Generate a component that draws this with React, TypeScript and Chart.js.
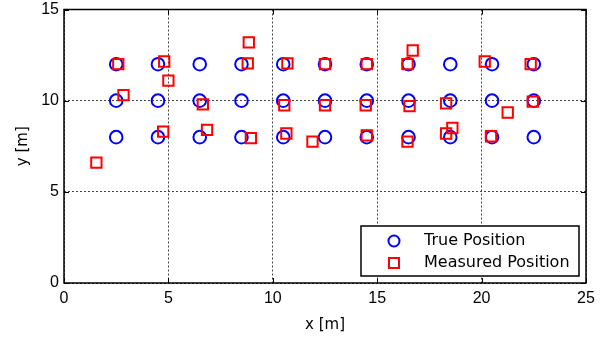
import React, { useEffect, useRef } from 'react';
import { Chart, registerables } from 'chart.js';
Chart.register(...registerables);

const trueX = [
  2.5, 4.5, 6.5, 8.5, 10.5, 12.5, 14.5, 16.5, 18.5, 20.5, 22.5,
  2.5, 4.5, 6.5, 8.5, 10.5, 12.5, 14.5, 16.5, 18.5, 20.5, 22.5,
  2.5, 4.5, 6.5, 8.5, 10.5, 12.5, 14.5, 16.5, 18.5, 20.5, 22.5,
];
const trueY = [
  8, 8, 8, 8, 8, 8, 8, 8, 8, 8, 8,
  10, 10, 10, 10, 10, 10, 10, 10, 10, 10, 10,
  12, 12, 12, 12, 12, 12, 12, 12, 12, 12, 12,
];
const measX = [
  2.6, 2.85, 1.55, 4.8, 5.0, 4.75, 6.65, 6.85, 8.85, 8.8, 8.95,
  10.7, 10.55, 10.65, 11.9, 12.5, 12.5, 14.5, 14.45, 14.5, 16.7, 16.45,
  16.55, 16.45, 18.3, 18.6, 18.3, 20.15, 21.25, 20.45, 22.35, 22.45,
];
const measY = [
  12.0, 10.3, 6.6, 12.15, 11.1, 8.3, 9.8, 8.4, 13.2, 12.05, 7.95,
  12.05, 9.75, 8.2, 7.75, 12.0, 9.75, 12.0, 9.75, 8.1, 12.75, 12.0,
  9.7, 7.75, 9.85, 8.5, 8.2, 12.15, 9.35, 8.05, 12.0, 9.95,
];
const xTickValues = [0, 5, 10, 15, 20, 25];
const yTickValues = [0, 5, 10, 15];
const seriesNames = ['True Position', 'Measured Position'];
const xTitle = 'x [m]';
const yTitle = 'y [m]';

const BLUE = '#0000ff';
const RED = '#ff0000';

const framePlugin = {
  id: 'frame',
  afterDraw(chart: any) {
    const { ctx, chartArea: a, scales } = chart;
    ctx.save();
    ctx.strokeStyle = '#000';
    ctx.lineWidth = 1.5;
    ctx.strokeRect(a.left, a.top, a.right - a.left, a.bottom - a.top);
    ctx.lineWidth = 1;
    const line = (x1: number, y1: number, x2: number, y2: number) => {
      ctx.beginPath();
      ctx.moveTo(x1, y1);
      ctx.lineTo(x2, y2);
      ctx.stroke();
    };
    xTickValues.forEach((v) => {
      const px = Math.round(scales.x.getPixelForValue(v)) + 0.5;
      line(px, a.bottom, px, a.bottom - 5);
      line(px, a.top, px, a.top + 5);
    });
    yTickValues.forEach((v) => {
      const py = Math.round(scales.y.getPixelForValue(v)) + 0.5;
      line(a.left, py, a.left + 5, py);
      line(a.right, py, a.right - 5, py);
    });

    // legend
    const lx = 361, ly = 226, lw = 218, lh = 50;
    ctx.fillStyle = '#fff';
    ctx.fillRect(lx, ly, lw, lh);
    ctx.strokeStyle = '#000';
    ctx.lineWidth = 1.5;
    ctx.strokeRect(lx, ly, lw, lh);
    ctx.font = '16px "DejaVu Sans"';
    ctx.textBaseline = 'middle';
    ctx.textAlign = 'left';
    ctx.fillStyle = '#000';
    const rows = [241, 263];
    ctx.lineWidth = 2;
    ctx.strokeStyle = BLUE;
    ctx.beginPath();
    ctx.arc(394, rows[0], 5.5, 0, Math.PI * 2);
    ctx.stroke();
    ctx.strokeStyle = RED;
    ctx.strokeRect(389, rows[1] - 5, 10, 10);
    ctx.fillText(seriesNames[0], 424, rows[0]);
    ctx.fillText(seriesNames[1], 424, rows[1]);
    ctx.restore();
  },
};

export default function App() {
  const ref = useRef<HTMLCanvasElement>(null);
  useEffect(() => {
    document.body.style.margin = '0';
    const trueData = trueX.map((x, i) => ({ x, y: trueY[i] }));
    const measData = measX.map((x, i) => ({ x, y: measY[i] }));
    const chart = new Chart(ref.current!, {
      type: 'scatter',
      data: {
        datasets: [
          {
            label: seriesNames[0],
            data: trueData,
            pointStyle: 'circle',
            pointRadius: 6.3,
            pointBorderWidth: 2,
            borderColor: BLUE,
            backgroundColor: 'rgba(0,0,0,0)',
            order: 2,
          },
          {
            label: seriesNames[1],
            data: measData,
            pointStyle: 'rect',
            pointRadius: 7.3,
            pointBorderWidth: 2,
            borderColor: RED,
            backgroundColor: 'rgba(0,0,0,0)',
            order: 1,
          },
        ],
      },
      options: {
        responsive: false,
        animation: false,
        events: [],
        layout: { padding: { top: 9.5, right: 18, left: 0, bottom: 0 } },
        plugins: { legend: { display: false }, tooltip: { enabled: false } },
        scales: {
          x: {
            type: 'linear',
            min: 0,
            max: 25,
            afterFit: (s: any) => { s.height = 58; s.paddingLeft = 0; s.paddingRight = 0; },
            ticks: {
              stepSize: 5,
              color: '#000',
              padding: 6,
              font: { family: 'Liberation Sans', size: 16 },
            },
            grid: { color: '#444', lineWidth: 1, drawTicks: false },
            border: { display: false, dash: [2, 2] },
            title: {
              display: true,
              text: xTitle,
              color: '#000',
              font: { family: 'DejaVu Sans', size: 15 },
              padding: { top: 0, bottom: 7 },
            },
          },
          y: {
            type: 'linear',
            min: 0,
            max: 15,
            afterFit: (s: any) => { s.width = 64; s.paddingTop = 0; s.paddingBottom = 0; },
            ticks: {
              stepSize: 5,
              color: '#000',
              padding: 5,
              font: { family: 'Liberation Sans', size: 16 },
            },
            grid: { color: '#444', lineWidth: 1, drawTicks: false },
            border: { display: false, dash: [2, 2] },
            title: {
              display: true,
              text: yTitle,
              color: '#000',
              font: { family: 'DejaVu Sans', size: 15 },
              padding: { top: 14, bottom: 0 },
            },
          },
        },
      },
      plugins: [framePlugin],
    });
    return () => chart.destroy();
  }, []);
  return (
    <div style={{ position: 'absolute', left: 0, top: 0, width: 604, height: 341 }}>
      <canvas ref={ref} width={604} height={341} />
    </div>
  );
}
